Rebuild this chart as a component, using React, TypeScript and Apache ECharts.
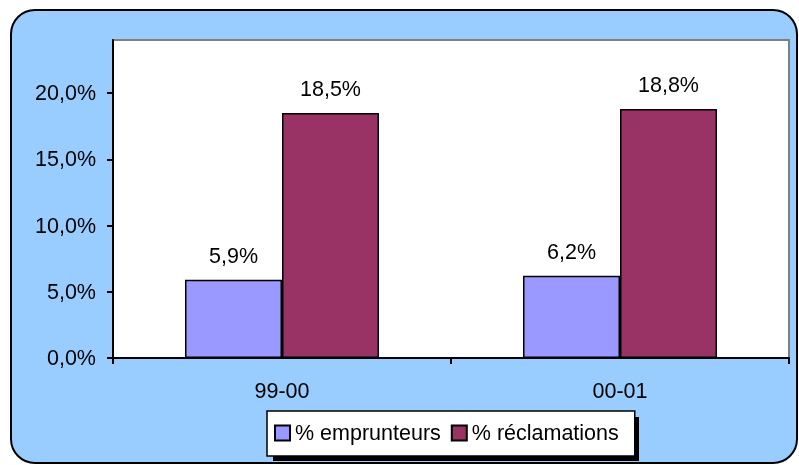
import React, { useEffect, useRef } from "react";
import * as echarts from "echarts";

// Periods on the category axis
const periods = ["99-00", "00-01"];
// Share of borrowers (%)
const emprunteurs = [5.9, 6.2];
// Share of claims (%)
const reclamations = [18.5, 18.8];
// Value-axis ticks (%)
const yTicks = [0, 5, 10, 15, 20];

const FONT = "Liberation Sans, Arial, sans-serif";
const FS = 21.5;

const fmt = (v: number) => v.toFixed(1).replace(".", ",") + "%";

export default function App() {
  const ref = useRef<HTMLDivElement>(null);

  useEffect(() => {
    if (!ref.current) return;
    const chart = echarts.init(ref.current, null, { renderer: "svg" });

    const barLabel = {
      show: true,
      position: "top" as const,
      distance: 13,
      color: "#000",
      fontSize: FS,
      fontFamily: FONT,
      formatter: (p: any) => fmt(p.value),
    };

    chart.setOption({
      animation: false,
      textStyle: { fontFamily: FONT },
      graphic: [
        {
          type: "rect",
          z: -10,
          shape: { x: 11, y: 10, width: 786, height: 453, r: 24 },
          style: { fill: "#99CCFF", stroke: "#000", lineWidth: 2 },
        },
        {
          // drop shadow behind the legend box
          type: "rect",
          z: 1,
          shape: { x: 273, y: 417, width: 366, height: 44 },
          style: { fill: "#000" },
        },
      ],
      grid: {
        left: 113,
        top: 40,
        width: 676,
        height: 318,
        show: true,
        backgroundColor: "#fff",
        borderColor: "#808080",
        borderWidth: 2,
      },
      legend: {
        left: 267,
        top: 411,
        z: 5,
        orient: "horizontal",
        backgroundColor: "#fff",
        borderColor: "#000",
        borderWidth: 1.5,
        padding: [11, 16, 12, 7],
        itemGap: 10,
        itemWidth: 15,
        itemHeight: 15,
        icon: "rect",
        textStyle: { fontSize: FS, color: "#000", fontFamily: FONT },
        data: ["% emprunteurs", "% réclamations"],
      },
      xAxis: {
        type: "category",
        data: periods,
        axisLine: { lineStyle: { color: "#000", width: 2 } },
        axisTick: { show: true, length: 6, lineStyle: { color: "#000", width: 2 } },
        axisLabel: { color: "#000", fontSize: FS, fontFamily: FONT, margin: 22 },
      },
      yAxis: {
        type: "value",
        min: 0,
        max: 24,
        interval: 5,
        splitLine: { show: false },
        axisLine: { show: true, lineStyle: { color: "#000", width: 2 } },
        axisTick: {
          show: true,
          length: 6,
          customValues: yTicks,
          lineStyle: { color: "#000", width: 2 },
        },
        axisLabel: {
          color: "#000",
          fontSize: FS,
          fontFamily: FONT,
          margin: 17,
          customValues: yTicks,
          formatter: (v: number) => fmt(v),
        },
      },
      series: [
        {
          name: "% emprunteurs",
          type: "bar",
          data: emprunteurs,
          barGap: "0%",
          barCategoryGap: "42.6%",
          itemStyle: { color: "#9999FF", borderColor: "#000", borderWidth: 1.5 },
          label: barLabel,
        },
        {
          name: "% réclamations",
          type: "bar",
          data: reclamations,
          barGap: "0%",
          barCategoryGap: "42.6%",
          itemStyle: { color: "#993366", borderColor: "#000", borderWidth: 1.5 },
          label: barLabel,
        },
      ],
    });

    return () => chart.dispose();
  }, []);

  return (
    <div
      ref={ref}
      style={{ position: "fixed", left: 0, top: 0, width: 799, height: 465 }}
    />
  );
}
